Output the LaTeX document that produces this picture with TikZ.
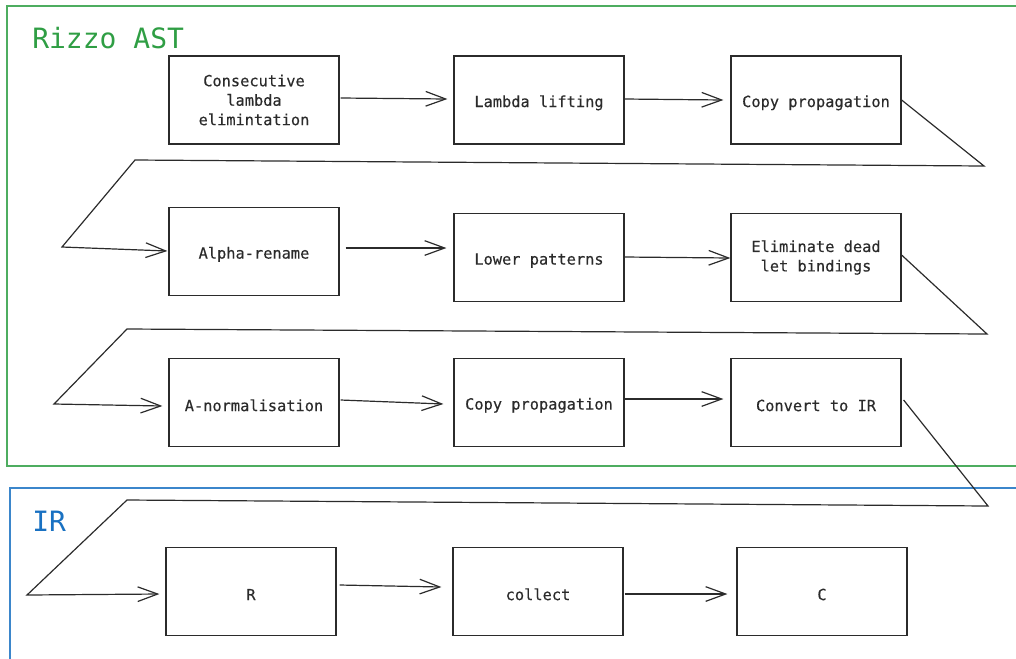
\documentclass[tikz,border=0pt]{standalone}
\usepackage{fontspec}
\setmonofont{DejaVu Sans Mono}
\newfontfamily\passfont[FakeBold=0.35]{DejaVu Sans Mono}
\usetikzlibrary{arrows.meta,calc}
\definecolor{astgreen}{HTML}{2F9E44}
\definecolor{irblue}{HTML}{1971C2}
\definecolor{ink}{HTML}{2B2B2B}
\tikzset{
  passbox/.style={draw=ink, line width=0.9pt, minimum width=127.5pt, minimum height=66pt,
    align=center, font=\passfont\fontsize{11.5}{14.6}\selectfont, text=ink, inner sep=0pt,
    execute at begin node={\rule{0pt}{13pt}}},
  flow/.style={draw=ink, line width=0.9pt, -{Straight Barb[length=15pt,width=11pt,line width=0.9pt]}},
  group/.style={line width=1pt},
  grouptitle/.style={font=\ttfamily\fontsize{21}{24}\selectfont, anchor=base west, inner sep=0pt}
}
\begin{document}
\begin{tikzpicture}[x=0.75pt, y=-0.75pt]
\useasboundingbox (0,0) rectangle (1016,658);
\clip (0,0) rectangle (1016,658);

% stage groups
\draw[group, astgreen!85!white] (7,6) rectangle (1030,466);
\draw[group, irblue!85!white] (10,488) rectangle (1030,680);
\node[grouptitle, text=astgreen] (astt) at (32,48) {Rizzo AST};
\node[grouptitle, text=irblue] (irt) at (32,531) {IR};

% passes on the AST
\node[passbox] (cle) at (254,100) {Consecutive\\lambda\\elimintation};
\node[passbox] (ll)  at (539,100) {Lambda lifting};
\node[passbox] (cp1) at (816,100) {Copy propagation};
\node[passbox] (ar)  at (254,251.5) {Alpha-rename};
\node[passbox] (lp)  at (539,257.5) {Lower patterns};
\node[passbox] (edl) at (816,257.5) {Eliminate dead\\let bindings};
\node[passbox] (an)  at (254,402.5) {A-normalisation};
\node[passbox] (cp2) at (539,402.5) {Copy propagation};
\node[passbox] (cir) at (816,402.5) {Convert to IR};

% passes on the IR
\node[passbox] (r)   at (251,591.5) {R};
\node[passbox] (col) at (538,591.5) {collect};
\node[passbox] (c)   at (822,591.5) {C};

% bend points of the row wraps
\coordinate (w1a) at (984,166);
\coordinate (w1b) at (135,160);
\coordinate (w1c) at (62,247);
\coordinate (w2a) at (987,334);
\coordinate (w2b) at (127,329);
\coordinate (w2c) at (54,404);
\coordinate (w3a) at (988,506);
\coordinate (w3b) at (127,500);
\coordinate (w3c) at (27,595);

% row 1
\draw[flow] ([shift={(1,-2)}]cle.east) -- ([shift={(-6,-1)}]ll.west);
\draw[flow] ([shift={(0,-1)}]ll.east) -- ([shift={(-7,0)}]cp1.west);
\draw[flow] (cp1.east) -- (w1a) -- (w1b) -- (w1c) -- ([shift={(-1,-0.5)}]ar.west);

% row 2
\draw[flow] ([shift={(6,-3.5)}]ar.east) -- ([shift={(-7,-9.5)}]lp.west);
\draw[flow] ([shift={(0,-0.5)}]lp.east) -- ([shift={(0,0.5)}]edl.west);
\draw[flow] ([shift={(0,-2.5)}]edl.east) -- (w2a) -- (w2b) -- (w2c) -- ([shift={(-6,3.5)}]an.west);

% row 3
\draw[flow] ([shift={(1,-2.5)}]an.east) -- ([shift={(-10,1.5)}]cp2.west);
\draw[flow] ([shift={(0,-3.5)}]cp2.east) -- ([shift={(-7,-3.5)}]cir.west);
\draw[flow] ([shift={(2,-2.5)}]cir.east) -- (w3a) -- (w3b) -- (w3c) -- ([shift={(-6,2.5)}]r.west);

% row 4
\draw[flow] ([shift={(3,-6.5)}]r.east) -- ([shift={(-11,-4.5)}]col.west);
\draw[flow] ([shift={(1,2.5)}]col.east) -- ([shift={(-9,2.5)}]c.west);
\end{tikzpicture}
\end{document}
